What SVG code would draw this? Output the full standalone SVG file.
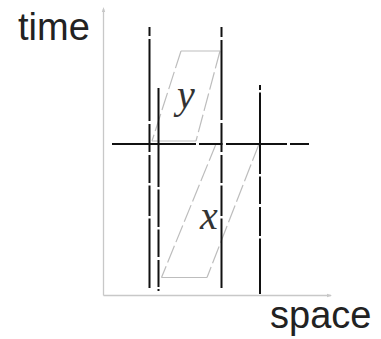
<svg xmlns="http://www.w3.org/2000/svg" width="381" height="339" viewBox="0 0 381 339">
<style>
.axis{stroke:#c8c8c8;stroke-width:1.3;fill:none}
.blk{stroke:#111;stroke-width:2;fill:none}
.gs{stroke:#bdbdbd;stroke-width:1.2;fill:none}
.gd{stroke:#bdbdbd;stroke-width:1.2;fill:none;stroke-dasharray:18 4}
.lbl{font-family:"Liberation Sans",Arial,sans-serif;font-size:38px;fill:#222}
.var{font-family:"Liberation Serif","Times New Roman",serif;font-style:italic;font-size:40px;fill:#333}
</style>
<rect width="381" height="339" fill="#fff"/>
<g id="axes">
<path class="axis" d="M103.5,295.5 V9 M103.5,295.5 H331"/>
<path d="M101.8,12 L103.5,7 L105.2,12 Z M327,293.8 L332,295.5 L327,297.2 Z" fill="#c8c8c8"/>
</g>
<g id="label-time"><text class="lbl" x="18" y="40">time</text></g>
<g id="label-space"><text class="lbl" x="270" y="328">space</text></g>
<g id="region-y">
<path class="gs" d="M181,51 H220 M152,141 H196"/>
<path class="gd" d="M181,51 L152,141 M220,51 L196,141"/>
<text class="var" x="177" y="108">y</text>
</g>
<g id="region-x">
<path class="gs" d="M161.5,277.5 H207"/>
<path class="gd" d="M216,144 L161.5,277.5 M259,144 L207,277.5"/>
<text class="var" x="200" y="229">x</text>
</g>
<g id="connectors">
<path class="blk" d="M149.5,27 V36 M149.5,39 V121 M149.5,124 V152 M149.5,155 V183 M149.5,185.5 V216 M149.5,218.5 V288"/>
<path class="blk" d="M158.5,88 V187 M158.5,189.5 V227 M158.5,229.5 V257 M158.5,260 V287 M158.5,289 V291"/>
<path class="blk" d="M221.5,27 V37 M221.5,40 V120 M221.5,123 V152 M221.5,155 V183 M221.5,185.5 V216 M221.5,218.5 V288"/>
<path class="blk" d="M260,85 V90 M260,92.5 V174 M260,176.5 V204 M260,207 V236 M260,238.5 V294"/>
<path class="blk" d="M112,144 H196 M199,144 H222.5 M226,144 H287 M290,144 H309"/>
</g>
</svg>
